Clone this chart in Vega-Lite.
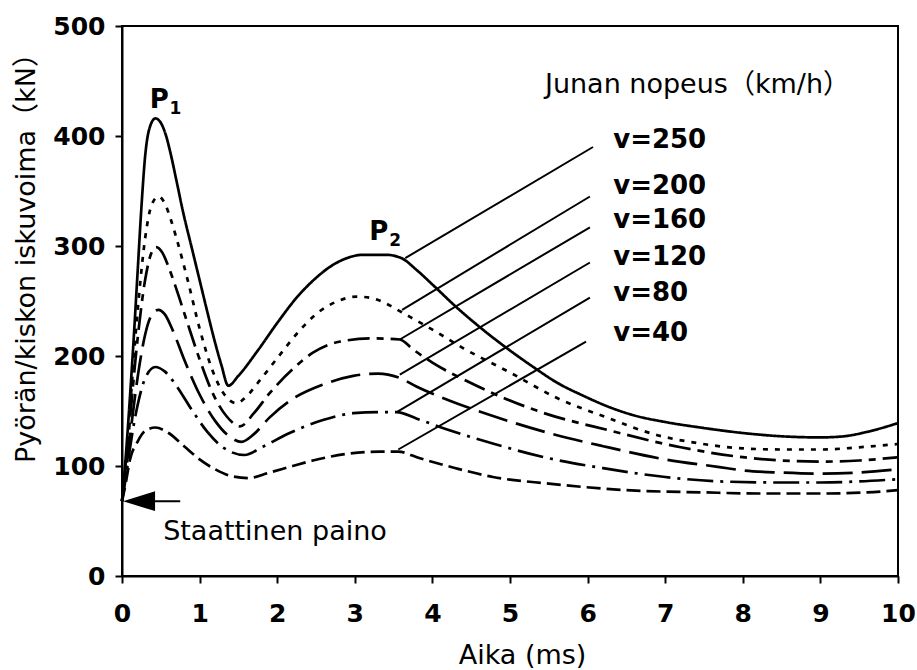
{
  "$schema": "https://vega.github.io/schema/vega-lite/v6.json",
  "width": 776,
  "height": 550,
  "autosize": {"type": "none"},
  "padding": {"left": 122, "top": 26, "right": 19, "bottom": 94},
  "background": "white",
  "config": {
    "view": {"stroke": "black", "strokeWidth": 2},
    "font": "DejaVu Sans",
    "axis": {
      "grid": false,
      "domainColor": "black",
      "domainWidth": 2,
      "tickColor": "black",
      "tickWidth": 2,
      "tickSize": 7,
      "labelFont": "DejaVu Sans",
      "labelFontWeight": "bold",
      "labelFontSize": 25,
      "labelColor": "black",
      "labelOverlap": false,
      "labelFlush": false,
      "titleFont": "DejaVu Sans, Noto Sans CJK SC",
      "titleFontSize": 27,
      "titleFontWeight": "normal",
      "titleColor": "black"
    }
  },
  "datasets": {
    "curves": [
      {"v": "250", "t": 0, "f": 68}, {"v": "250", "t": 0.05, "f": 110}, {"v": "250", "t": 0.1, "f": 160}, {"v": "250", "t": 0.15, "f": 215}, {"v": "250", "t": 0.2, "f": 275}, {"v": "250", "t": 0.25, "f": 335}, {"v": "250", "t": 0.3, "f": 383}, {"v": "250", "t": 0.35, "f": 406}, {"v": "250", "t": 0.43, "f": 416}, {"v": "250", "t": 0.5, "f": 412}, {"v": "250", "t": 0.56, "f": 402}, {"v": "250", "t": 0.62, "f": 386}, {"v": "250", "t": 0.7, "f": 360}, {"v": "250", "t": 0.79, "f": 330}, {"v": "250", "t": 0.9, "f": 298}, {"v": "250", "t": 1.0, "f": 269}, {"v": "250", "t": 1.1, "f": 240}, {"v": "250", "t": 1.2, "f": 212}, {"v": "250", "t": 1.28, "f": 192}, {"v": "250", "t": 1.37, "f": 173}, {"v": "250", "t": 1.5, "f": 182}, {"v": "250", "t": 1.75, "f": 205}, {"v": "250", "t": 2.0, "f": 230}, {"v": "250", "t": 2.25, "f": 253}, {"v": "250", "t": 2.5, "f": 271}, {"v": "250", "t": 2.7, "f": 282}, {"v": "250", "t": 2.9, "f": 289}, {"v": "250", "t": 3.1, "f": 292}, {"v": "250", "t": 3.4, "f": 292}, {"v": "250", "t": 3.6, "f": 289}, {"v": "250", "t": 3.8, "f": 278}, {"v": "250", "t": 4.0, "f": 265}, {"v": "250", "t": 4.3, "f": 245}, {"v": "250", "t": 4.65, "f": 224}, {"v": "250", "t": 5.0, "f": 205}, {"v": "250", "t": 5.3, "f": 190}, {"v": "250", "t": 5.6, "f": 176}, {"v": "250", "t": 5.94, "f": 164}, {"v": "250", "t": 6.3, "f": 153}, {"v": "250", "t": 6.6, "f": 146}, {"v": "250", "t": 7.0, "f": 140}, {"v": "250", "t": 7.45, "f": 135}, {"v": "250", "t": 8.0, "f": 130}, {"v": "250", "t": 8.5, "f": 127}, {"v": "250", "t": 9.0, "f": 126}, {"v": "250", "t": 9.3, "f": 127}, {"v": "250", "t": 9.6, "f": 131}, {"v": "250", "t": 10, "f": 139},

      {"v": "200", "t": 0, "f": 68}, {"v": "200", "t": 0.05, "f": 105}, {"v": "200", "t": 0.1, "f": 150}, {"v": "200", "t": 0.2, "f": 240}, {"v": "200", "t": 0.3, "f": 308}, {"v": "200", "t": 0.38, "f": 337}, {"v": "200", "t": 0.47, "f": 345}, {"v": "200", "t": 0.55, "f": 339}, {"v": "200", "t": 0.62, "f": 326}, {"v": "200", "t": 0.71, "f": 305}, {"v": "200", "t": 0.85, "f": 268}, {"v": "200", "t": 1.0, "f": 225}, {"v": "200", "t": 1.16, "f": 188}, {"v": "200", "t": 1.3, "f": 167}, {"v": "200", "t": 1.48, "f": 157}, {"v": "200", "t": 1.6, "f": 163}, {"v": "200", "t": 1.8, "f": 180}, {"v": "200", "t": 2.0, "f": 198}, {"v": "200", "t": 2.25, "f": 220}, {"v": "200", "t": 2.5, "f": 238}, {"v": "200", "t": 2.75, "f": 249}, {"v": "200", "t": 3.03, "f": 254}, {"v": "200", "t": 3.25, "f": 252}, {"v": "200", "t": 3.45, "f": 246}, {"v": "200", "t": 3.6, "f": 240}, {"v": "200", "t": 3.8, "f": 232}, {"v": "200", "t": 4.0, "f": 224}, {"v": "200", "t": 4.4, "f": 207}, {"v": "200", "t": 5.0, "f": 185}, {"v": "200", "t": 5.6, "f": 162}, {"v": "200", "t": 6.25, "f": 144}, {"v": "200", "t": 6.9, "f": 128}, {"v": "200", "t": 7.4, "f": 121}, {"v": "200", "t": 8.0, "f": 116}, {"v": "200", "t": 8.5, "f": 115}, {"v": "200", "t": 9.0, "f": 115}, {"v": "200", "t": 9.5, "f": 117}, {"v": "200", "t": 10, "f": 120},

      {"v": "160", "t": 0, "f": 68}, {"v": "160", "t": 0.05, "f": 100}, {"v": "160", "t": 0.1, "f": 140}, {"v": "160", "t": 0.2, "f": 215}, {"v": "160", "t": 0.3, "f": 270}, {"v": "160", "t": 0.37, "f": 292}, {"v": "160", "t": 0.44, "f": 299}, {"v": "160", "t": 0.52, "f": 294}, {"v": "160", "t": 0.6, "f": 281}, {"v": "160", "t": 0.7, "f": 261}, {"v": "160", "t": 0.83, "f": 233}, {"v": "160", "t": 1.0, "f": 197}, {"v": "160", "t": 1.17, "f": 166}, {"v": "160", "t": 1.35, "f": 145}, {"v": "160", "t": 1.52, "f": 136}, {"v": "160", "t": 1.7, "f": 148}, {"v": "160", "t": 1.9, "f": 166}, {"v": "160", "t": 2.2, "f": 188}, {"v": "160", "t": 2.46, "f": 203}, {"v": "160", "t": 2.8, "f": 213}, {"v": "160", "t": 3.23, "f": 216}, {"v": "160", "t": 3.58, "f": 215}, {"v": "160", "t": 3.75, "f": 206}, {"v": "160", "t": 4.0, "f": 194}, {"v": "160", "t": 4.45, "f": 177}, {"v": "160", "t": 5.4, "f": 149}, {"v": "160", "t": 6.3, "f": 132}, {"v": "160", "t": 7.2, "f": 117}, {"v": "160", "t": 8.0, "f": 108}, {"v": "160", "t": 8.5, "f": 105}, {"v": "160", "t": 9.0, "f": 104}, {"v": "160", "t": 9.5, "f": 105}, {"v": "160", "t": 10, "f": 108},

      {"v": "120", "t": 0, "f": 68}, {"v": "120", "t": 0.05, "f": 95}, {"v": "120", "t": 0.1, "f": 125}, {"v": "120", "t": 0.2, "f": 180}, {"v": "120", "t": 0.3, "f": 220}, {"v": "120", "t": 0.38, "f": 237}, {"v": "120", "t": 0.47, "f": 242}, {"v": "120", "t": 0.55, "f": 238}, {"v": "120", "t": 0.65, "f": 224}, {"v": "120", "t": 0.8, "f": 197}, {"v": "120", "t": 1.0, "f": 165}, {"v": "120", "t": 1.2, "f": 141}, {"v": "120", "t": 1.4, "f": 126}, {"v": "120", "t": 1.54, "f": 122}, {"v": "120", "t": 1.7, "f": 129}, {"v": "120", "t": 1.9, "f": 144}, {"v": "120", "t": 2.2, "f": 161}, {"v": "120", "t": 2.59, "f": 174}, {"v": "120", "t": 2.98, "f": 182}, {"v": "120", "t": 3.3, "f": 184}, {"v": "120", "t": 3.58, "f": 180}, {"v": "120", "t": 3.8, "f": 172}, {"v": "120", "t": 4.2, "f": 160}, {"v": "120", "t": 4.8, "f": 145}, {"v": "120", "t": 5.5, "f": 130}, {"v": "120", "t": 6.2, "f": 118}, {"v": "120", "t": 7.0, "f": 106}, {"v": "120", "t": 7.7, "f": 99}, {"v": "120", "t": 8.0, "f": 96}, {"v": "120", "t": 8.5, "f": 94}, {"v": "120", "t": 9.0, "f": 93}, {"v": "120", "t": 9.5, "f": 94}, {"v": "120", "t": 10, "f": 97},

      {"v": "80", "t": 0, "f": 68}, {"v": "80", "t": 0.05, "f": 90}, {"v": "80", "t": 0.1, "f": 115}, {"v": "80", "t": 0.2, "f": 155}, {"v": "80", "t": 0.3, "f": 180}, {"v": "80", "t": 0.43, "f": 190}, {"v": "80", "t": 0.55, "f": 186}, {"v": "80", "t": 0.7, "f": 173}, {"v": "80", "t": 0.9, "f": 151}, {"v": "80", "t": 1.1, "f": 131}, {"v": "80", "t": 1.3, "f": 117}, {"v": "80", "t": 1.58, "f": 110}, {"v": "80", "t": 1.8, "f": 117}, {"v": "80", "t": 2.16, "f": 130}, {"v": "80", "t": 2.6, "f": 142}, {"v": "80", "t": 2.98, "f": 148}, {"v": "80", "t": 3.3, "f": 149}, {"v": "80", "t": 3.54, "f": 149}, {"v": "80", "t": 3.8, "f": 143}, {"v": "80", "t": 4.2, "f": 133}, {"v": "80", "t": 4.8, "f": 120}, {"v": "80", "t": 5.5, "f": 107}, {"v": "80", "t": 6.2, "f": 98}, {"v": "80", "t": 7.0, "f": 90}, {"v": "80", "t": 7.7, "f": 86}, {"v": "80", "t": 8.5, "f": 85}, {"v": "80", "t": 9.0, "f": 85}, {"v": "80", "t": 9.5, "f": 86}, {"v": "80", "t": 10, "f": 88},

      {"v": "40", "t": 0, "f": 68}, {"v": "40", "t": 0.05, "f": 85}, {"v": "40", "t": 0.1, "f": 105}, {"v": "40", "t": 0.2, "f": 122}, {"v": "40", "t": 0.3, "f": 132}, {"v": "40", "t": 0.43, "f": 135}, {"v": "40", "t": 0.6, "f": 130}, {"v": "40", "t": 0.8, "f": 118}, {"v": "40", "t": 1.0, "f": 106}, {"v": "40", "t": 1.2, "f": 97}, {"v": "40", "t": 1.4, "f": 91}, {"v": "40", "t": 1.63, "f": 89}, {"v": "40", "t": 1.9, "f": 94}, {"v": "40", "t": 2.2, "f": 100}, {"v": "40", "t": 2.46, "f": 105}, {"v": "40", "t": 2.9, "f": 111}, {"v": "40", "t": 3.32, "f": 113}, {"v": "40", "t": 3.56, "f": 113}, {"v": "40", "t": 3.84, "f": 107}, {"v": "40", "t": 4.3, "f": 98}, {"v": "40", "t": 4.78, "f": 90}, {"v": "40", "t": 5.5, "f": 84}, {"v": "40", "t": 6.5, "f": 78}, {"v": "40", "t": 7.5, "f": 76}, {"v": "40", "t": 8.2, "f": 75}, {"v": "40", "t": 9.0, "f": 75}, {"v": "40", "t": 9.6, "f": 76}, {"v": "40", "t": 10, "f": 78}
    ],
    "leaders": [
      {"t": 3.65, "f": 289, "t2": 6.07, "f2": 390},
      {"t": 3.61, "f": 242, "t2": 6.03, "f2": 345},
      {"t": 3.58, "f": 215, "t2": 6.03, "f2": 317},
      {"t": 3.58, "f": 183, "t2": 6.03, "f2": 285},
      {"t": 3.54, "f": 149, "t2": 6.03, "f2": 253},
      {"t": 3.56, "f": 115, "t2": 5.98, "f2": 213},
      {"t": 0.22, "f": 68, "t2": 0.75, "f2": 68}
    ],
    "vlabels": [
      {"t": 6.33, "f": 396, "text": "v=250"},
      {"t": 6.33, "f": 355, "text": "v=200"},
      {"t": 6.33, "f": 324, "text": "v=160"},
      {"t": 6.33, "f": 290, "text": "v=120"},
      {"t": 6.33, "f": 257, "text": "v=80"},
      {"t": 6.33, "f": 221, "text": "v=40"}
    ],
    "notes": [
      {"t": 5.45, "f": 446, "text": "Junan nopeus（km/h）"},
      {"t": 0.53, "f": 40, "text": "Staattinen paino"}
    ],
    "pmain": [
      {"t": 0.48, "f": 433, "text": "P"},
      {"t": 3.31, "f": 313, "text": "P"}
    ],
    "psub": [
      {"t": 0.69, "f": 425, "text": "1"},
      {"t": 3.52, "f": 305, "text": "2"}
    ],
    "arrowhead": [
      {"t": 0.22, "f": 68}
    ]
  },
  "layer": [
    {
      "data": {"name": "curves"},
      "mark": {"type": "line", "color": "black", "strokeWidth": 2.7, "interpolate": "monotone", "strokeCap": "butt"},
      "encoding": {
        "x": {"field": "t", "type": "quantitative", "scale": {"domain": [0, 10], "nice": false}, "axis": {"values": [0, 1, 2, 3, 4, 5, 6, 7, 8, 9, 10], "format": "d", "title": "Aika (ms)", "labelPadding": 18, "titleX": 400, "titleY": 66, "titleBaseline": "top", "titleAnchor": "middle"}},
        "y": {"field": "f", "type": "quantitative", "scale": {"domain": [0, 500], "nice": false}, "axis": {"values": [0, 100, 200, 300, 400, 500], "format": "d", "title": "Pyörän/kiskon iskuvoima（kN）", "labelPadding": 10, "titleX": -82, "titleY": 225, "titleAnchor": "middle"}},
        "detail": {"field": "v", "type": "nominal"},
        "strokeDash": {"field": "v", "type": "nominal", "legend": null, "scale": {"domain": ["250", "200", "160", "120", "80", "40"], "range": [[1, 0], [5, 7], [22, 7, 7, 7], [30, 9], [26, 7, 3, 7], [14, 6]]}}
      }
    },
    {
      "data": {"name": "leaders"},
      "mark": {"type": "rule", "color": "black", "strokeWidth": 2},
      "encoding": {
        "x": {"field": "t", "type": "quantitative"},
        "y": {"field": "f", "type": "quantitative"},
        "x2": {"field": "t2"},
        "y2": {"field": "f2"}
      }
    },
    {
      "data": {"name": "arrowhead"},
      "mark": {"type": "point", "shape": "M-1,0L1,-0.62L1,0.62Z", "filled": true, "color": "black", "size": 1024, "opacity": 1},
      "encoding": {
        "x": {"field": "t", "type": "quantitative"},
        "y": {"field": "f", "type": "quantitative"}
      }
    },
    {
      "data": {"name": "vlabels"},
      "mark": {"type": "text", "align": "left", "baseline": "middle", "font": "DejaVu Sans", "fontWeight": "bold", "fontSize": 26, "color": "black"},
      "encoding": {
        "x": {"field": "t", "type": "quantitative"},
        "y": {"field": "f", "type": "quantitative"},
        "text": {"field": "text"}
      }
    },
    {
      "data": {"name": "notes"},
      "mark": {"type": "text", "align": "left", "baseline": "middle", "font": "DejaVu Sans, Noto Sans CJK SC", "fontSize": 27, "color": "black"},
      "encoding": {
        "x": {"field": "t", "type": "quantitative"},
        "y": {"field": "f", "type": "quantitative"},
        "text": {"field": "text"}
      }
    },
    {
      "data": {"name": "pmain"},
      "mark": {"type": "text", "align": "center", "baseline": "middle", "font": "DejaVu Sans", "fontWeight": "bold", "fontSize": 26, "color": "black"},
      "encoding": {
        "x": {"field": "t", "type": "quantitative"},
        "y": {"field": "f", "type": "quantitative"},
        "text": {"field": "text"}
      }
    },
    {
      "data": {"name": "psub"},
      "mark": {"type": "text", "align": "center", "baseline": "middle", "font": "DejaVu Sans", "fontWeight": "bold", "fontSize": 17, "color": "black"},
      "encoding": {
        "x": {"field": "t", "type": "quantitative"},
        "y": {"field": "f", "type": "quantitative"},
        "text": {"field": "text"}
      }
    }
  ]
}
